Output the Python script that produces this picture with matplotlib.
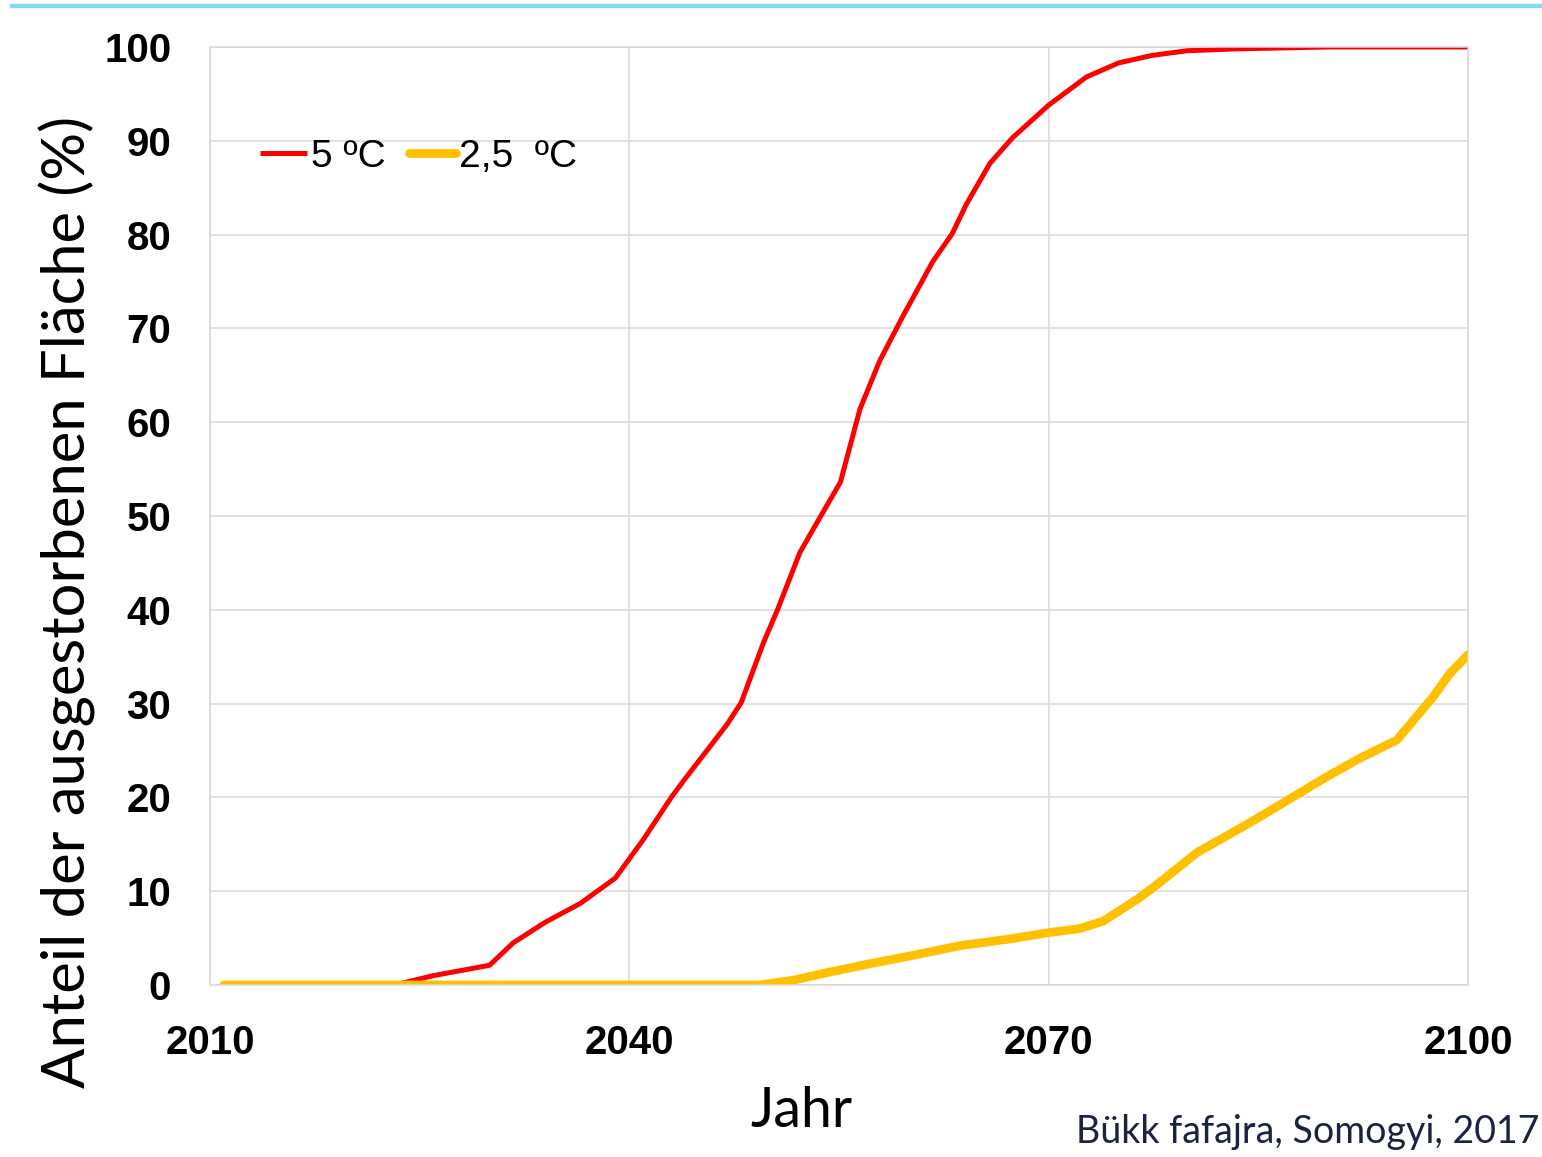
import matplotlib
matplotlib.use("Agg")
import matplotlib.pyplot as plt
from matplotlib.lines import Line2D

# data
years_5 = [2011, 2023.2, 2026, 2030, 2031.7, 2034, 2036.5, 2039, 2041, 2043, 2044,
           2047, 2048, 2049.6, 2050.6, 2052.2, 2053.7, 2055.1, 2056.5, 2057.9,
           2059.5, 2061.7, 2063.1, 2064.1, 2065.8, 2067.4, 2070, 2072.7, 2075,
           2077.4, 2079.9, 2083.5, 2090, 2100]
vals_5 = [0, 0, 1.0, 2.1, 4.5, 6.7, 8.7, 11.4, 15.5, 20.0, 22.0,
          27.8, 30.1, 36.5, 40.0, 46.1, 50.0, 53.6, 61.4, 66.5,
          71.1, 77.1, 80.1, 83.2, 87.6, 90.3, 93.8, 96.8, 98.3,
          99.1, 99.6, 99.8, 100, 100]

years_25 = [2011, 2049.3, 2051.7, 2054.1, 2057, 2060.1, 2063.7, 2067.2, 2070.1,
            2072.2, 2073.9, 2076.3, 2077.5, 2080.6, 2084.4, 2087.1, 2089.9,
            2092.3, 2094.9, 2097.5, 2098.7, 2100]
vals_25 = [0, 0, 0.5, 1.3, 2.2, 3.1, 4.2, 4.9, 5.6,
           6.0, 6.8, 9.1, 10.4, 14.1, 17.3, 19.7, 22.2,
           24.2, 26.1, 30.7, 33.2, 35.2]

labels = ["5 \u00baC", "2,5  \u00baC"]
x_ticks = [2010, 2040, 2070, 2100]
y_ticks = list(range(0, 101, 10))

arial = ["Liberation Sans", "DejaVu Sans"]
plain = ["Lato", "DejaVu Sans"]

fig = plt.figure(figsize=(15.42, 11.57), dpi=100)
ax = fig.add_axes([0.1362, 0.1487, 0.952 - 0.1362, 0.9594 - 0.1487])

ax.plot(years_5, vals_5, color="#ff0000", lw=3.6, label=labels[0], solid_capstyle="butt")
ax.plot(years_25, vals_25, color="#ffc000", lw=6.3, label=labels[1], solid_capstyle="round")

ax.set_xlim(2010, 2100)
ax.set_ylim(0, 100)
ax.set_xticks(x_ticks)
ax.set_yticks(y_ticks)
ax.grid(True, color="#d9d9d9", lw=1.1)
ax.set_axisbelow(True)
for s in ax.spines.values():
    s.set_color("#d9d9d9")
    s.set_linewidth(1.1)
ax.tick_params(length=0)
ax.tick_params(axis="x", pad=28)
ax.tick_params(axis="y", pad=28)
for t in ax.get_xticklabels() + ax.get_yticklabels():
    t.set_family(arial)
    t.set_fontweight("bold")
    t.set_fontsize(29)

leg = ax.legend(loc="upper left", bbox_to_anchor=(0.04, 0.902), ncol=2, frameon=False,
                borderpad=0, borderaxespad=0,
                handlelength=1.2, handletextpad=0.1, columnspacing=0.6,
                prop={"family": arial, "size": 28})

ax.set_ylabel("Anteil der ausgestorbenen Fl\u00e4che (%)", family=plain, fontsize=43)
ax.yaxis.set_label_coords(-0.091, 0.408)

fig.text(0.52, 0.026, "Jahr", family=plain, fontsize=40, ha="center", va="baseline")
fig.text(0.998, 0.012, "B\u00fckk fafajra, Somogyi, 2017", family=plain, fontsize=27,
         color="#1c2340", ha="right", va="baseline")

# light blue bar along the top
fig.add_artist(Line2D([0.008, 1.0], [0.9948, 0.9948], color="#87d8f6", lw=3.2,
                      transform=fig.transFigure))

fig.savefig("out.png", dpi=100)
